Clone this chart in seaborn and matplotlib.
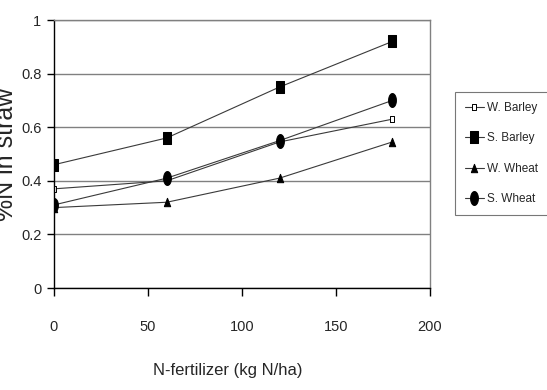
import numpy as np
import pandas as pd
import seaborn as sns
import matplotlib.pyplot as plt

# datos
n_rate = [0, 60, 120, 180]
w_barley = [0.37, 0.40, 0.545, 0.63]
s_barley = [0.46, 0.56, 0.75, 0.92]
w_wheat = [0.30, 0.32, 0.41, 0.545]
s_wheat = [0.31, 0.41, 0.55, 0.70]
series_names = ["W. Barley", "S. Barley", "W. Wheat", "S. Wheat"]
x_ticks = [0, 50, 100, 150, 200]
y_ticks = [0, 0.2, 0.4, 0.6, 0.8, 1]
y_ticklabels = ["0", "0.2", "0.4", "0.6", "0.8", "1"]

sns.set_style("white")
plt.rcParams['font.family'] = ['Liberation Sans', 'DejaVu Sans']

# marcadores estirados en vertical como en el original
rect = [(-0.33, -0.5), (0.33, -0.5), (0.33, 0.5), (-0.33, 0.5), (-0.33, -0.5)]
tri = [(-0.38, -0.5), (0.38, -0.5), (0.0, 0.5), (-0.38, -0.5)]
t = np.linspace(0, 2 * np.pi, 40)
elipse = list(zip(0.28 * np.cos(t), 0.5 * np.sin(t)))
estilos = {
    "W. Barley": dict(marker=rect, markersize=5, markerfacecolor="white", markeredgecolor="black", markeredgewidth=0.7),
    "S. Barley": dict(marker=rect, markersize=8, markerfacecolor="black", markeredgecolor="black"),
    "W. Wheat": dict(marker=tri, markersize=6, markerfacecolor="black", markeredgecolor="black"),
    "S. Wheat": dict(marker=elipse, markersize=10, markerfacecolor="black", markeredgecolor="black"),
}
valores = [w_barley, s_barley, w_wheat, s_wheat]

fig = plt.figure(figsize=(5.47, 3.90), dpi=100)
ax = fig.add_axes([54/547, 1 - 288/390, 376/547, 268/390])

for nombre, vals in zip(series_names, valores):
    df = pd.DataFrame({"N": n_rate, "pct": vals})
    sns.lineplot(data=df, x="N", y="pct", ax=ax, color="#3a3a3a", linewidth=0.8,
                 label=nombre, **estilos[nombre])

ax.set_xlim(0, 200)
ax.set_ylim(0, 1)
ax.set_xticks(x_ticks)
ax.set_yticks(y_ticks)
ax.set_yticklabels(y_ticklabels)
ax.yaxis.grid(True, color="#808080", linewidth=1)
ax.set_axisbelow(True)

for lado in ["top", "right"]:
    ax.spines[lado].set_color("#808080")
for lado in ["left", "bottom"]:
    ax.spines[lado].set_color("black")
for sp in ax.spines.values():
    sp.set_linewidth(1)

ax.tick_params(axis="x", direction="out", length=6, width=1, pad=17, labelsize=10.5, bottom=True, color="black")
ax.tick_params(axis="y", direction="out", length=5, width=1, pad=4, labelsize=10.5, left=True, color="black")

ax.set_xlabel("N-fertilizer (kg N/ha)", fontsize=12)
ax.set_ylabel("%N in straw", fontsize=18)
ax.xaxis.set_label_coords(0.463, -0.28)
ax.yaxis.set_label_coords(-0.095, 0.5)

leg = ax.legend(loc="upper left", bbox_to_anchor=(455/547, 1 - 92/390), bbox_transform=fig.transFigure,
                fontsize=8.5, frameon=True, fancybox=False, borderpad=0.85, labelspacing=1.55,
                handlelength=1.6, handletextpad=0.3, borderaxespad=0)
leg.get_frame().set_edgecolor("#555555")
leg.get_frame().set_linewidth(0.8)

plt.savefig("out.png", dpi=100)
plt.close()
